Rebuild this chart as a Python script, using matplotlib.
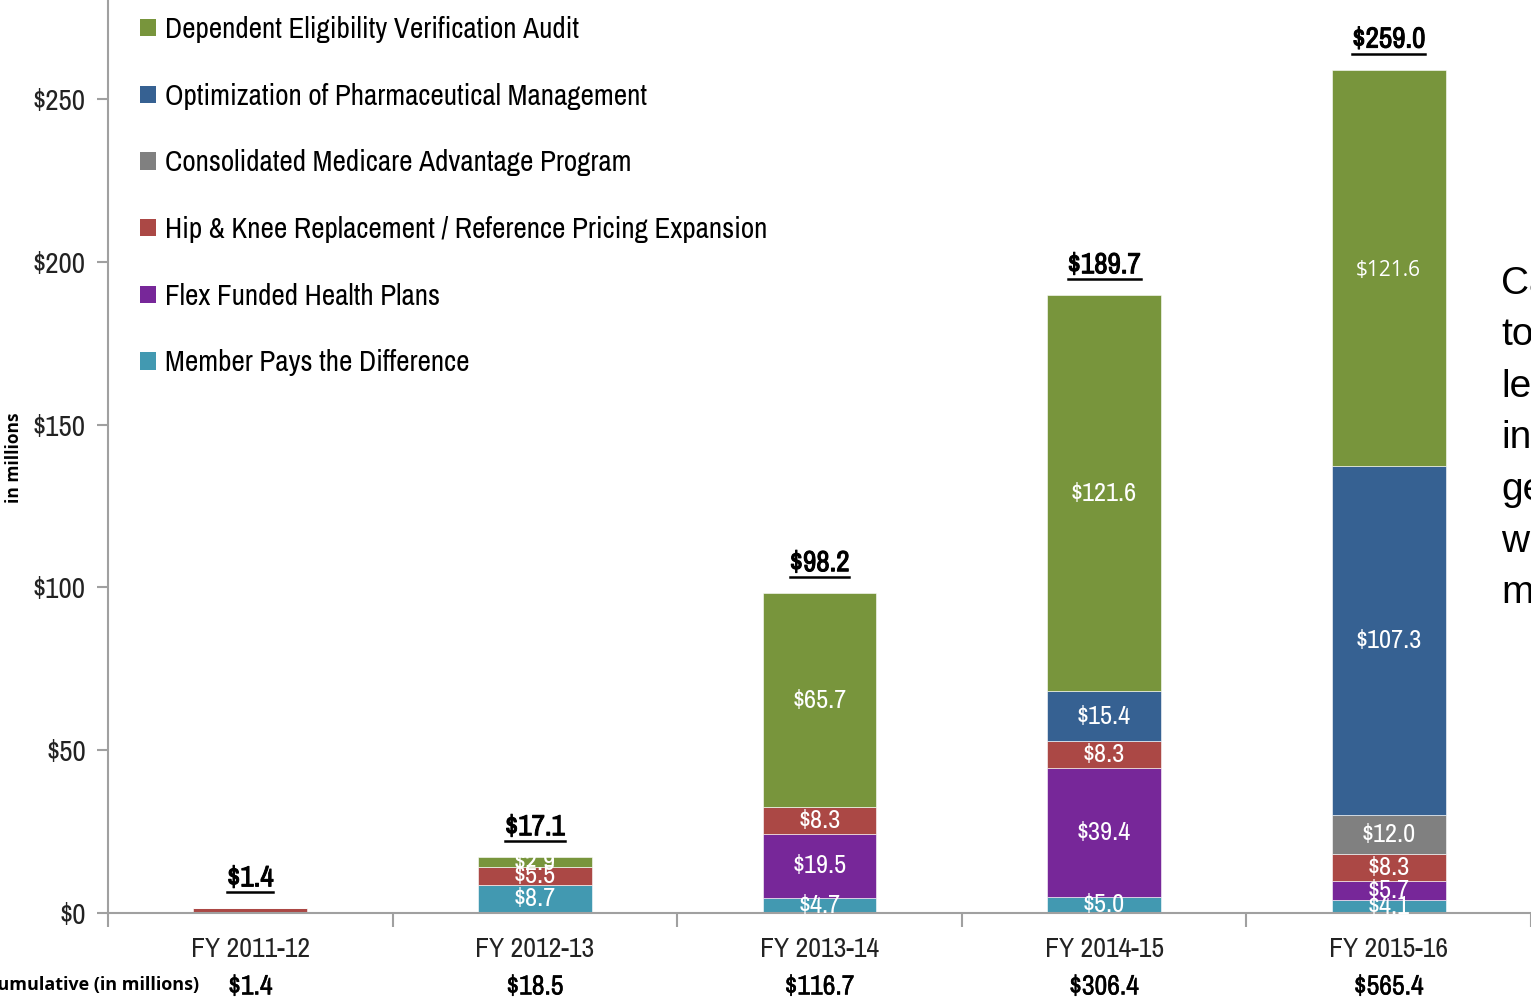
import matplotlib
matplotlib.use('Agg')
import matplotlib.pyplot as plt
import matplotlib.transforms as mtransforms
import matplotlib.patheffects as pe
from matplotlib.patches import Patch
from matplotlib.lines import Line2D
import numpy as np

NARROW = ['Archivo Narrow', 'Liberation Sans Narrow', 'DejaVu Sans']
plt.rcParams['font.family'] = NARROW

# data
years = ['FY 2011-12', 'FY 2012-13', 'FY 2013-14', 'FY 2014-15', 'FY 2015-16']
member_pays = [0.0, 8.7, 4.7, 5.0, 4.1]
flex_funded = [0.0, 0.0, 19.5, 39.4, 5.7]
hip_knee = [1.4, 5.5, 8.3, 8.3, 8.3]
medicare_adv = [0.0, 0.0, 0.0, 0.0, 12.0]
pharma_opt = [0.0, 0.0, 0.0, 15.4, 107.3]
dependent_audit = [0.0, 2.9, 65.7, 121.6, 121.6]
cumulative = [1.4, 18.5, 116.7, 306.4, 565.4]

series = [
    ('Member Pays the Difference', member_pays, '#4299B1'),
    ('Flex Funded Health Plans', flex_funded, '#772799'),
    ('Hip & Knee Replacement / Reference Pricing Expansion', hip_knee, '#AB4845'),
    ('Consolidated Medicare Advantage Program', medicare_adv, '#808080'),
    ('Optimization of Pharmaceutical Management', pharma_opt, '#366192'),
    ('Dependent Eligibility Verification Audit', dependent_audit, '#78953C'),
]

side_words = ['CalPERS', 'to', 'lead', 'innovation', 'generating', 'which', 'more']

W, H = 1531, 1001
fig = plt.figure(figsize=(W / 100, H / 100), dpi=100)
ax = fig.add_axes([108 / W, 88 / H, 1423 / W, 913 / H])

x = np.arange(len(years))
bottom = np.zeros(len(years))
handles = []
for name, vals, col in series:
    vals = np.array(vals)
    ax.bar(x, vals, width=0.4, bottom=bottom, color=col, edgecolor='white', linewidth=0.4)
    for i, v in enumerate(vals):
        if v >= 2:
            fam = NARROW
            fs = 19
            va = 'center'
            if name.startswith('Dependent') and i == 4:
                fam = ['Open Sans', 'DejaVu Sans']
                fs = 15
                va = 'center_baseline'
            ax.text(i, bottom[i] + v / 2, '$%.1f' % v, ha='center', va=va,
                    color='white', fontsize=fs, family=fam)
    bottom = bottom + vals
    handles.append(Patch(facecolor=col, label=name))

# totals, bold look + underline
totals = bottom
total_texts = []
for i, t in enumerate(totals):
    tt = ax.annotate('$%.1f' % t, xy=(i, t), xytext=(0, 22), textcoords='offset points',
                     ha='center', va='center', fontsize=21, fontweight='bold', color='black',
                     path_effects=[pe.withStroke(linewidth=0.7, foreground='black')])
    total_texts.append(tt)

ax.set_xlim(-0.5, 4.5)
ax.set_ylim(0, 280.4)
ax.set_yticks([0, 50, 100, 150, 200, 250])
ax.set_yticklabels(['$0', '$50', '$100', '$150', '$200', '$250'])
ax.set_xticks(x)
ax.set_xticklabels(years)
ax.set_xticks(np.arange(-0.5, 5.0, 1.0), minor=True)
ax.tick_params(axis='y', length=8, width=1.5, color='#a0a0a0', pad=8, labelsize=21, labelcolor='#222222')
ax.tick_params(axis='x', which='major', length=0, pad=17.5, labelsize=20, labelcolor='#222222')
ax.tick_params(axis='x', which='minor', length=10, width=1.5, color='#a0a0a0')
for s in ['top', 'right']:
    ax.spines[s].set_visible(False)
for s in ['left', 'bottom']:
    ax.spines[s].set_color('#a0a0a0')
    ax.spines[s].set_linewidth(1.5)

ax.legend(handles=handles[::-1], loc='upper left', bbox_to_anchor=(140 / W, 1 - 16 / H),
          bbox_transform=fig.transFigure, frameon=False, fontsize=21,
          handlelength=0.55, handleheight=0.55, handletextpad=0.3,
          labelspacing=1.36, borderpad=0, borderaxespad=0)

# cumulative row
trans = mtransforms.blended_transform_factory(ax.transData, fig.transFigure)
fig.text(199 / W, 1 - 985 / H, 'Cumulative (in millions)', ha='right', va='center',
         fontsize=13, fontweight='bold', family=['Open Sans', 'DejaVu Sans'])
for i, c in enumerate(cumulative):
    ax.text(i, 1 - 987 / H, '$%.1f' % c, transform=trans, ha='center', va='center',
            fontsize=20, color='black', clip_on=False,
            path_effects=[pe.withStroke(linewidth=0.3, foreground='black')])

fig.text(14 / W, 1 - 458 / H, 'in millions', rotation=90, ha='center', va='center',
         fontsize=12.5, fontweight='bold', family=['Open Sans', 'DejaVu Sans'])

for k, w in enumerate(side_words):
    fig.text(1501 / W, 1 - (284 + k * 51.5) / H, w, ha='left', va='center',
             fontsize=28, family=['Liberation Sans', 'DejaVu Sans'], color='black')

fig.canvas.draw()
inv = fig.transFigure.inverted()
for tt in total_texts:
    bb = tt.get_window_extent()
    (x0, y0), (x1, _) = inv.transform([(bb.x0, bb.y0 - 1), (bb.x1, bb.y0 - 1)])
    fig.add_artist(Line2D([x0, x1], [y0, y0], transform=fig.transFigure, color='black', linewidth=1.8))

fig.savefig('out.png', dpi=100)
